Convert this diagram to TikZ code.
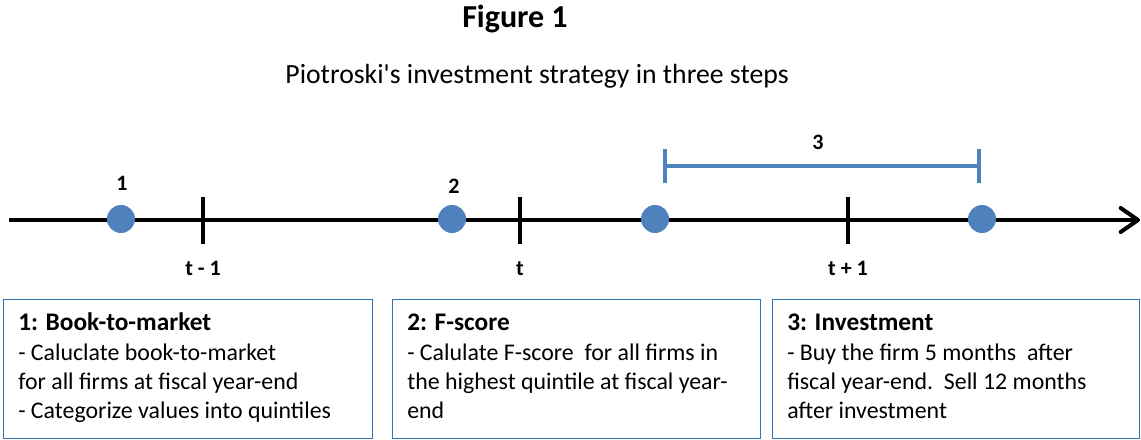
\documentclass[tikz,border=0pt]{standalone}
\usepackage{fontspec}
\setmainfont{Carlito}
\usetikzlibrary{arrows.meta}

\definecolor{dotblue}{HTML}{4F81BD}
\definecolor{boxblue}{HTML}{2E75B6}

\begin{document}
\begin{tikzpicture}[x=0.75pt, y=-0.75pt, every node/.style={inner sep=0},
    dot/.style={circle, fill=dotblue, minimum size=21pt},
    mark label/.style={font=\fontsize{16.5}{19}\selectfont\bfseries},
    stepbox/.style={draw=boxblue, line width=1.1pt, anchor=north west,
      minimum height=104pt},
    stephead/.style={anchor=base west, font=\fontsize{19}{23}\selectfont\bfseries},
    stepbody/.style={anchor=base west, align=left,
      font=\fontsize{17.9}{21.4}\selectfont}]
      \useasboundingbox (0,0) rectangle (1141,439);

      % Title
      \node[anchor=base, font=\fontsize{24}{28}\selectfont\bfseries] (title) at (515,27) {Figure 1};
      \node[anchor=base, font=\fontsize{20.8}{24}\selectfont] (subtitle) at (537,83)
        {Piotroski\textquotesingle s investment strategy in three steps};

      % Time axis
      \coordinate (west) at (9,220);
      \coordinate (east) at (1140,220);
      \draw[line width=3pt, -{Straight Barb[length=13pt, width=18pt, line cap=round, line join=round]}]
        (west) -- (east);

      % Year marks
      \foreach \x/\lab [count=\i] in {203/t - 1, 520/t, 848/t + 1} {
        \coordinate (year\i) at (\x,220);
        \draw[line width=3.5pt] (year\i) ++(0,-23) -- ++(0,47);
        \node[mark label, anchor=base] at (\x,275) {\lab};
      }

      % Event dots
      \foreach \x [count=\i] in {121,452,655,982} {
        \node[dot] (event\i) at (\x,219) {};
      }
      \node[mark label, anchor=base] (lab1) at (122,190) {1};
      \node[mark label, anchor=base] (lab2) at (454,193) {2};

      % Holding period
      \coordinate (buy) at (663,166);
      \coordinate (sell) at (981,166);
      \draw[dotblue, line width=3pt, {Bar[width=26pt]}-{Bar[width=26pt]}] (buy) -- (sell);
      \node[mark label, anchor=base] (lab3) at (818,149) {3};

      % Step boxes (body node sits on its last baseline)
      \node[stepbox, minimum width=276.5pt] (box1) at (3,299) {};
      \node[stepbox, minimum width=276pt] (box2) at (392,299) {};
      \node[stepbox, minimum width=275pt] (box3) at (772,299) {};

      \node[stephead] at ([shift={(15,31)}]box1.north west) {1: Book-to-market};
      \node[stepbody] at ([shift={(15,119)}]box1.north west)
        {- Caluclate book-to-market\\for all firms at fiscal year-end\\- Categorize values into quintiles};

      \node[stephead] at ([shift={(15,31)}]box2.north west) {2: F-score};
      \node[stepbody] at ([shift={(15,119)}]box2.north west)
        {- Calulate F-score\ \ for all firms in\\the highest quintile at fiscal year-\\end};

      \node[stephead] at ([shift={(15,31)}]box3.north west) {3: Investment};
      \node[stepbody] at ([shift={(15,119)}]box3.north west)
        {- Buy the firm 5 months\ \ after\\fiscal year-end.\ \ Sell 12 months\\after investment};
\end{tikzpicture}
\end{document}
